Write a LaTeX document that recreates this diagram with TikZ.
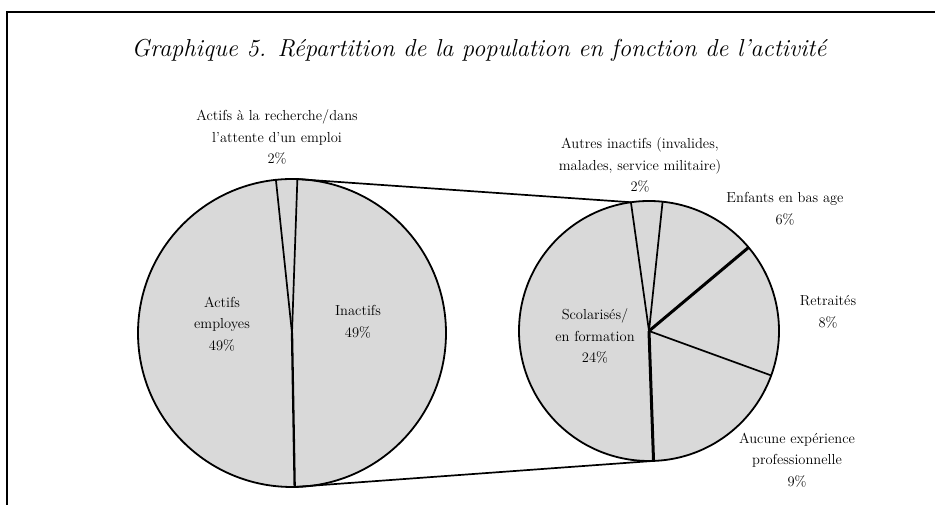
\documentclass[tikz,border=0pt]{standalone}
\usetikzlibrary{positioning}

\begin{document}
\begin{tikzpicture}[x=1pt,y=1pt,
  pie/.style={draw,circle,line width=1.8pt,fill=black!15,inner sep=0pt,outer sep=0pt},
  cut/.style={line width=1.7pt},
  lbl/.style={align=center,inner sep=0pt,font=\fontsize{14.5}{21.5}\selectfont}]
\useasboundingbox (0,0) rectangle (935,505);
\draw[line width=1.8pt] (7,0) -- (7,493) -- (935,493);

\node[inner sep=0pt,font=\fontsize{24.5}{28}\selectfont\itshape] (title) at (479,455)
  {Graphique 5. Répartition de la population en fonction de l'activité};

\node[pie,minimum size=308pt] (left) at (292,172) {};
\node[pie,minimum size=260pt] (right) at (649,174) {};

\draw[cut](left.center)--(left.88);
\draw[cut](left.center)--(left.96);
\draw[cut,line width=2.3pt](left.center)--(left.271.6);

\draw[cut](right.center)--(right.98.5);
\draw[cut](right.center)--(right.84);
\draw[cut,line width=3pt](right.center)--(right.40);
\draw[cut](right.center)--(right.340);
\draw[cut,line width=3pt](right.center)--(right.272);

\draw[cut](left.88)--(right.98.5);
\draw[cut](left.271.6)--(right.272);

\node[lbl] (recherche) at (277,368) {Actifs à la recherche/dans\\l'attente d'un emploi\\2\%};
\node[lbl] (employes) at (222,181) {Actifs\\employes\\49\%};
\node[lbl] (inactifs) at (358,183) {Inactifs\\49\%};
\node[lbl] (autres) at (640,340) {Autres inactifs (invalides,\\malades, service militaire)\\2\%};
\node[lbl] (enfants) at (785,296) {Enfants en bas age\\6\%};
\node[lbl] (retraites) at (828,193) {Retraités\\8\%};
\node[lbl] (aucune) at (797,45) {Aucune expérience\\professionnelle\\9\%};
\node[lbl] (scolarises) at (595,169) {Scolarisés/\\en formation\\24\%};
\end{tikzpicture}
\end{document}
